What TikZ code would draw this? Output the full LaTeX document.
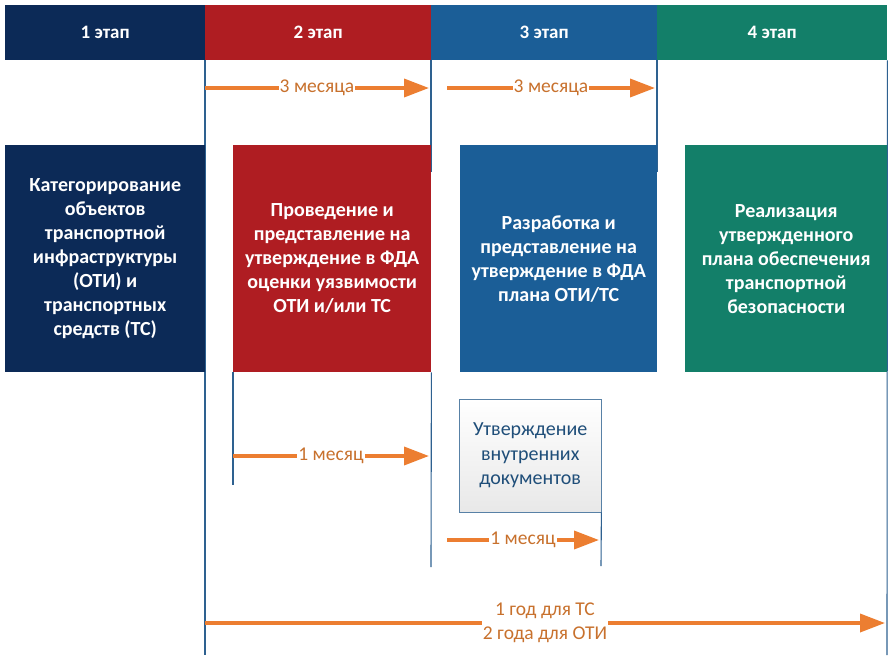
\documentclass[tikz,border=0pt]{standalone}
\usepackage{fontspec}
\setmainfont{Carlito}
\usetikzlibrary{arrows.meta,positioning}
\definecolor{stageA}{HTML}{0C2A57}
\definecolor{stageB}{HTML}{AF1D22}
\definecolor{stageC}{HTML}{1B5E97}
\definecolor{stageD}{HTML}{137F69}
\definecolor{guide}{HTML}{2E6190}
\definecolor{span}{HTML}{EC7E31}
\definecolor{spantext}{HTML}{C8712D}
\definecolor{doctext}{HTML}{1F4E79}
\begin{document}
\begin{tikzpicture}[
        x=1pt, y=-1pt,
        stagehead/.style={fill=#1, text=white, anchor=north west, inner sep=0pt,
            minimum height=55pt, font=\bfseries\fontsize{19}{22}\selectfont},
        stagebox/.style={fill=#1, text=white, anchor=north west, inner sep=0pt,
            minimum height=227pt, align=center, font=\bfseries\fontsize{20}{24}\selectfont},
        docbox/.style={draw=guide!80, thin, top color=white, bottom color=gray!18,
            text=doctext, anchor=north west, inner sep=0pt, align=center,
            minimum width=142pt, minimum height=113pt, font=\fontsize{20}{24.5}\selectfont},
        guideline/.style={draw=guide, line width=1.1pt},
        spanarrow/.style={draw=span, line width=3.6pt, -{Triangle[length=25pt,width=18pt]}},
        spanlabel/.style={fill=white, text=spantext, inner sep=1pt, align=center,
            font=\fontsize{19.5}{24}\selectfont}
        ]
    \useasboundingbox (0,0) rectangle (892,659);

    \node[stagehead=stageA, minimum width=200pt] (h1) at (5,5) {1 этап};
    \node[stagehead=stageB, minimum width=226pt] (h2) at (205,5) {2 этап};
    \node[stagehead=stageC, minimum width=226pt] (h3) at (431,5) {3 этап};
    \node[stagehead=stageD, minimum width=230pt] (h4) at (657,5) {4 этап};

    \coordinate (g1) at (205,655);
    \coordinate (g2) at (431,172);
    \coordinate (g3) at (657,172);
    \coordinate (g4) at (887,655);
    \draw[guideline] (h2.south west) -- (g1);
    \draw[guideline] (h3.south west) -- (g2);
    \draw[guideline] (h4.south west) -- (g3);
    \draw[guideline] (h4.south east) -- (g4);

    \node[stagebox=stageA, minimum width=200pt] (b1) at (5,145)
        {Категорирование\\объектов\\транспортной\\инфраструктуры\\(ОТИ) и\\транспортных\\средств (ТС)};
    \node[stagebox=stageB, minimum width=198pt] (b2) at (233,145)
        {Проведение и\\представление на\\утверждение в ФДА\\оценки уязвимости\\ОТИ и/или ТС};
    \node[stagebox=stageC, minimum width=197pt] (b3) at (460,145)
        {Разработка и\\представление на\\утверждение в ФДА\\плана ОТИ/ТС};
    \node[stagebox=stageD, minimum width=202pt] (b4) at (685,145)
        {Реализация\\утвержденного\\плана обеспечения\\транспортной\\безопасности};

    \node[docbox] (doc) at (459,399) {Утверждение\\внутренних\\документов};

    \coordinate (g5) at (233,485);
    \coordinate (g6) at (431,567);
    \coordinate (g7) at (601,566);
    \draw[guideline] (b2.south west) -- (g5);
    \draw[guideline] (b2.south east) -- (g6);
    \draw[guideline] (doc.south east) -- (g7);

    \coordinate (s1) at (205,88);  \coordinate (e1) at (429,88);
    \coordinate (s2) at (447,88);  \coordinate (e2) at (655,88);
    \coordinate (s3) at (233,456); \coordinate (e3) at (429,456);
    \coordinate (s4) at (447,540); \coordinate (e4) at (599,540);
    \coordinate (s5) at (205,623); \coordinate (e5) at (885,623);
    \draw[spanarrow] (s1) -- node[spanlabel] {3 месяца} (e1);
    \draw[spanarrow] (s2) -- node[spanlabel] {3 месяца} (e2);
    \draw[spanarrow] (s3) -- node[spanlabel] {1 месяц} (e3);
    \draw[spanarrow] (s4) -- node[spanlabel] {1 месяц} (e4);
    \draw[spanarrow] (s5) -- node[spanlabel] {1 год для ТС\\2 года для ОТИ} (e5);
\end{tikzpicture}
\end{document}
